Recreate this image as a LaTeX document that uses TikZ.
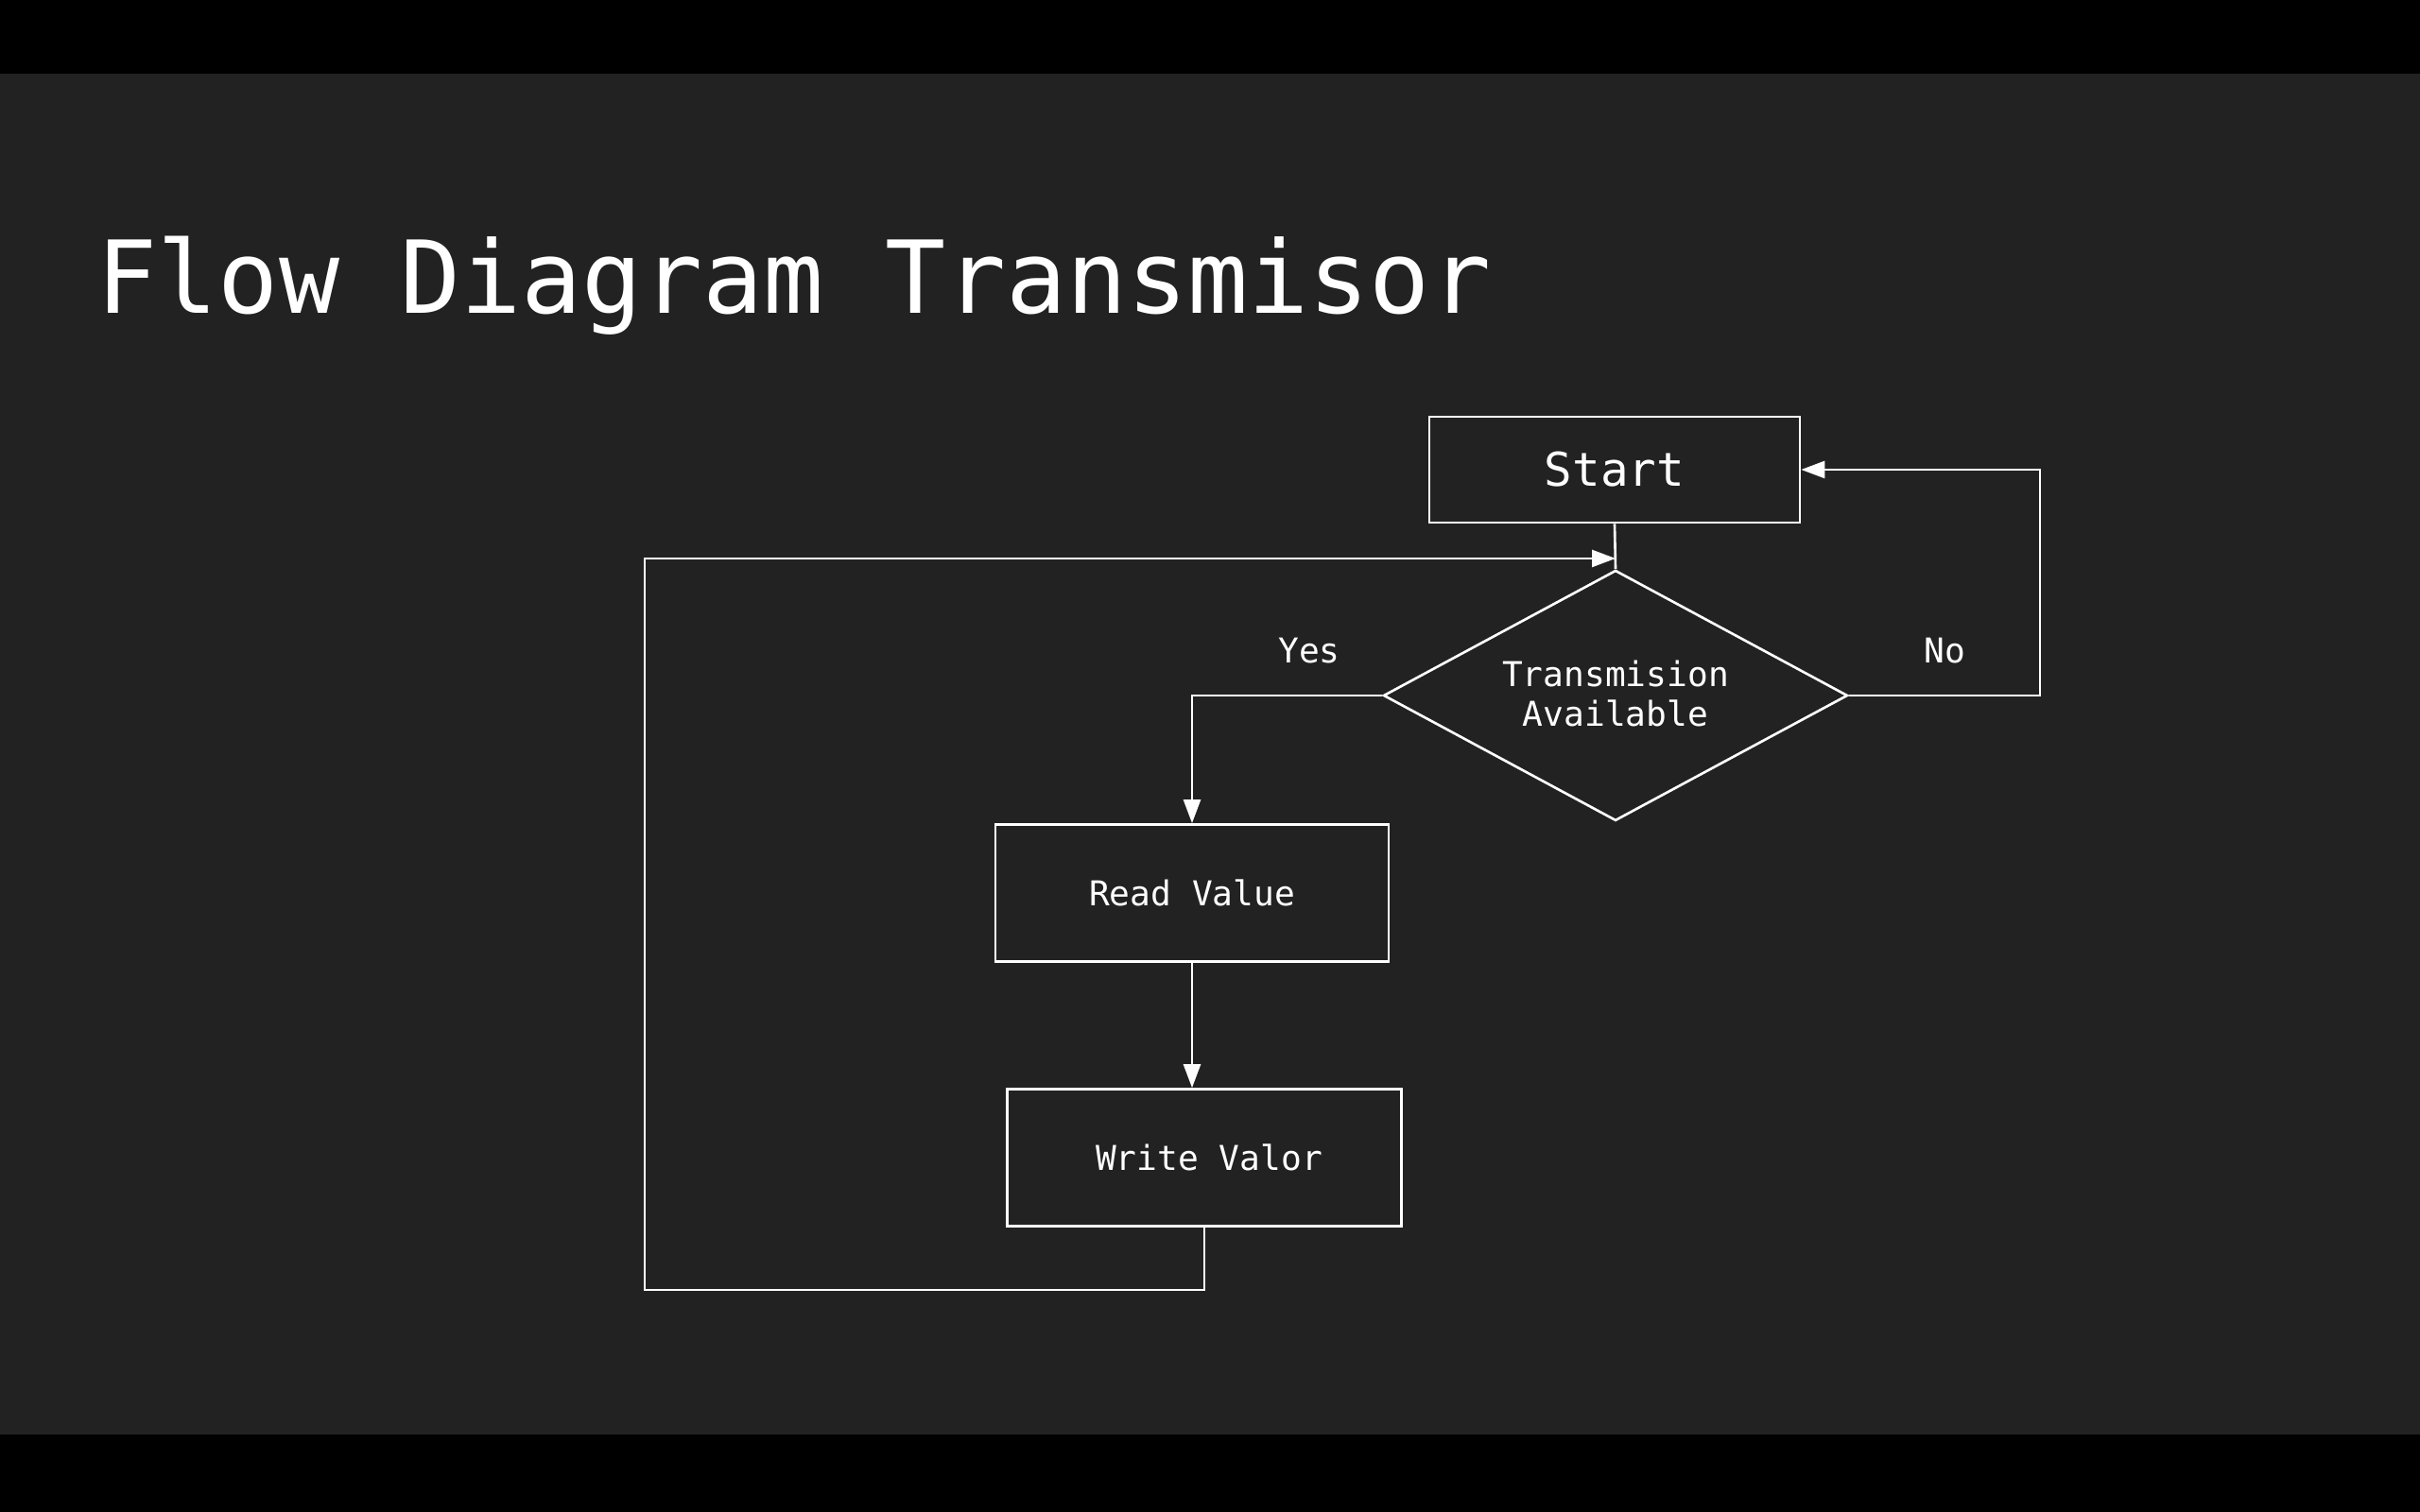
\documentclass[tikz,border=0pt]{standalone}
\usepackage{fontspec}
\setmonofont{DejaVu Sans Mono}
\usetikzlibrary{shapes.geometric,arrows.meta}
\definecolor{slide}{HTML}{222222}
\tikzset{
  box/.style={draw=white,line width=0.75pt,minimum width=#1,minimum height=1.45cm,inner sep=0pt,
    text=white,font=\ttfamily\fontsize{10.3}{12}\selectfont},
  lbl/.style={text=white,font=\ttfamily\fontsize{10.3}{12}\selectfont},
  flow/.style={draw=white,line width=0.75pt,-{Triangle[length=0.25cm,width=0.18cm]}}
}
\begin{document}
\begin{tikzpicture}
      \fill[slide] (0,0) rectangle (25.6,16);
      \fill[black] (0,15.22) rectangle (25.6,16);
      \fill[black] (0,0) rectangle (25.6,0.82);
      \useasboundingbox (0,0) rectangle (25.6,16);
      \node[anchor=base west,inner sep=0pt,text=white,font=\ttfamily\fontsize{30.3}{36}\selectfont] (title) at (1.02,12.68) {Flow Diagram Transmisor};
      \node[box=3.92cm,minimum height=1.12cm,font=\ttfamily\fontsize{14}{16}\selectfont] (start) at (17.08,11.03) {Start};
      \node[diamond,aspect=1.85,draw=white,line width=0.75pt,minimum width=4.91cm,minimum height=2.65cm,inner sep=0pt,
        lbl,align=center] (trans) at (17.09,8.64) {\raisebox{0.05cm}{Transmision}\\\raisebox{0.05cm}{Available}};
      \node[box=4.16cm] (read) at (12.61,6.55) {Read Value};
      \node[box=4.17cm] (write) at (12.74,3.75) {\hspace{0.1cm}Write Valor};
      \node[lbl] (yes) at (13.85,9.11) {Yes};
      \node[lbl] (no) at (20.57,9.11) {No};
      \coordinate (loopbl) at (6.82,2.35);
      \coordinate (looptl) at (6.82,10.09);
      \coordinate (noturn) at (21.58,8.64);
      \draw [white,line width=0.75pt] (start.south) -- (trans.north);
      \draw [flow] (trans.west) -| (read.north);
      \draw [flow] (read.south) -- (read.south |- write.north);
      \draw [flow] (write.south) |- (loopbl) -- (looptl) -- (looptl -| trans.north);
      \draw [flow] (trans.east) -- (noturn) |- (start.east);
    \end{tikzpicture}
\end{document}
